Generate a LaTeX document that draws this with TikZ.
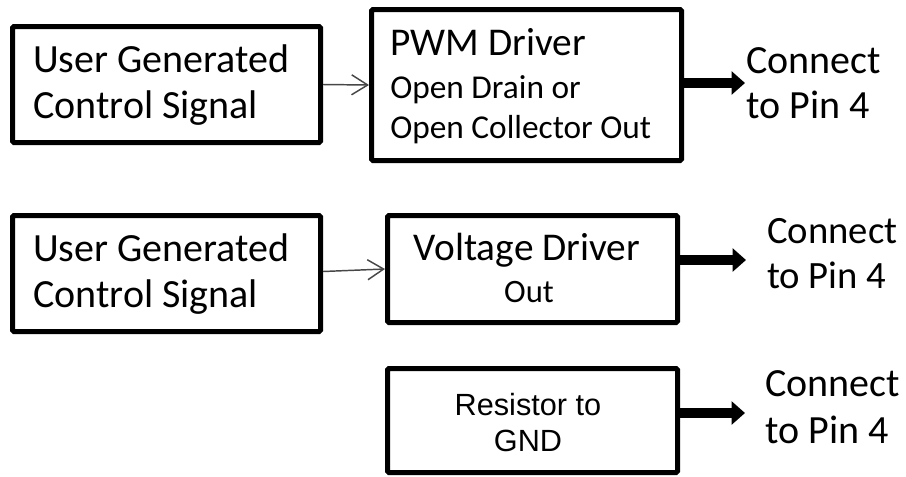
\documentclass[tikz,border=0pt]{standalone}
\usepackage{fontspec}
\setmainfont{Carlito}
\newfontfamily\arialf{Liberation Sans}
\usetikzlibrary{arrows.meta}
\begin{document}
\begin{tikzpicture}[x=0.75pt,y=-0.75pt,
  box/.style={draw=black, line width=3.75pt, rounded corners=1pt, inner sep=0pt},
  big/.style={font=\fontsize{30}{34}\selectfont, inner sep=0pt},
  mid/.style={font=\fontsize{29.5}{34}\selectfont, inner sep=0pt},
  small/.style={font=\fontsize{25}{29}\selectfont, inner sep=0pt},
  outtxt/.style={font=\fontsize{24.5}{28}\selectfont, inner sep=0pt},
  conn/.style={font=\fontsize{30}{34}\selectfont, inner sep=0pt},
  conntwo/.style={font=\fontsize{29}{34}\selectfont, inner sep=0pt},
  arial/.style={font=\arialf\fontsize{23}{27}\selectfont, inner sep=0pt},
  thinarrow/.style={draw=black!72, line width=1.1pt, -{Straight Barb[length=12pt,width=15pt]}},
  thickarrow/.style={draw=black, line width=7.5pt, -{Triangle[length=10pt,width=17pt]}},
]
\useasboundingbox (0,0) rectangle (906,476);

% boxes
\node[box, minimum width=231pt, minimum height=87pt] (A1) at (166.5,84.5) {};
\node[box, minimum width=232.5pt, minimum height=113.25pt] (B1) at (526.5,85) {};
\node[box, minimum width=231pt, minimum height=87pt] (A2) at (166.5,273.5) {};
\node[box, minimum width=217.5pt, minimum height=80.25pt] (B2) at (532.5,269) {};
\node[box, minimum width=217.5pt, minimum height=78pt] (C) at (532.5,420.5) {};

% row 1 texts
\node[big, anchor=base west] (a1l1) at (33,72) {User Generated};
\node[big, anchor=base west] (a1l2) at (33,118) {Control Signal};
\node[mid, anchor=base west] (b1l1) at (390,55) {PWM Driver};
\node[small, anchor=base west] (b1l2) at (390,98) {Open Drain or};
\node[small, anchor=base west] (b1l3) at (390,138) {Open Collector Out};
\node[conn, anchor=base west] (c1l1) at (746,73) {Connect};
\node[conn, anchor=base west] (c1l2) at (746,118) {to Pin 4};

% row 2 texts
\node[big, anchor=base west] (a2l1) at (33,261) {User Generated};
\node[big, anchor=base west] (a2l2) at (33,307) {Control Signal};
\node[mid, anchor=base] (b2l1) at (527,260) {Voltage Driver};
\node[outtxt, anchor=base] (b2l2) at (529,302) {Out};
\node[conntwo, anchor=base west] (c2l1) at (767,243) {Connect};
\node[conntwo, anchor=base west] (c2l2) at (767,288) {to Pin 4};

% row 3 texts
\node[arial, anchor=base] (cl1) at (528,415) {Resistor to};
\node[arial, anchor=base] (cl2) at (528,451) {GND};
\node[conn, anchor=base west] (c3l1) at (765,396) {Connect};
\node[conn, anchor=base west] (c3l2) at (765,443) {to Pin 4};

% connectors
\draw[thinarrow] (A1.east) -- (B1.west);
\draw[thinarrow] ([yshift=1.5pt]A2.east) -- (B2.west);

\coordinate (t1) at (745,83);
\coordinate (t2) at (746,260);
\coordinate (t3) at (745,413);
\draw[thickarrow] ([xshift=-3pt]B1.east |- t1) -- (t1);
\draw[thickarrow] ([xshift=-3pt]B2.east |- t2) -- (t2);
\draw[thickarrow] ([xshift=-3pt]C.east |- t3) -- (t3);
\end{tikzpicture}
\end{document}
